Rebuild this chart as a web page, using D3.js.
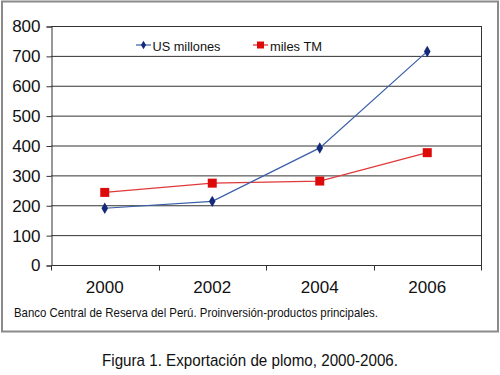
<!DOCTYPE html>
<html>
<head>
<meta charset="utf-8">
<script src="https://cdn.jsdelivr.net/npm/d3@7"></script>
<style>
  body { margin: 0; background: #fff; }
  svg text { font-family: "Liberation Sans", Arial, sans-serif; fill: #111; }
</style>
</head>
<body>
<div id="chart"></div>
<script>
// data
let years = ['2000', '2002', '2004', '2006'];
let usMillones = [190, 213, 392, 715];
let milesTM = [243, 274, 281, 376];
let yTicks = [0, 100, 200, 300, 400, 500, 600, 700, 800];

let width = 500, height = 375;
let plot = {left: 51, right: 481, top: 26, bottom: 265};

let svg = d3.select('#chart').append('svg')
    .attr('width', width)
    .attr('height', height);

// outer frame
svg.append('rect')
    .attr('x', 2).attr('y', 1.5)
    .attr('width', 496).attr('height', 330)
    .attr('fill', '#fff')
    .attr('stroke', '#8a8a8a')
    .attr('stroke-width', 2);

let xScale = d3.scaleBand()
    .domain(years)
    .range([plot.left, plot.right]);

let yScale = d3.scaleLinear()
    .domain([0, 800])
    .range([plot.bottom, plot.top]);

// gridlines
svg.append('g').selectAll('line')
    .data(yTicks.filter(d => d > 0))
    .enter().append('line')
    .attr('x1', plot.left).attr('x2', plot.right)
    .attr('y1', d => yScale(d) + 0.5).attr('y2', d => yScale(d) + 0.5)
    .attr('stroke', '#333').attr('stroke-width', 1);

// right border of plot area
svg.append('line')
    .attr('x1', plot.right + 0.5).attr('x2', plot.right + 0.5)
    .attr('y1', plot.top).attr('y2', plot.bottom)
    .attr('stroke', '#333');

// y axis
let yAxis = svg.append('g')
    .attr('transform', 'translate(' + (plot.left + 0.5) + ',0.5)')
    .call(d3.axisLeft(yScale).tickValues(yTicks).tickSize(5).tickPadding(6));
yAxis.selectAll('path, line').attr('stroke', '#333');
yAxis.selectAll('text')
    .style('font-size', '17px')
    .attr('fill', '#111');

// x axis with ticks between categories
let xAxisG = svg.append('g')
    .attr('transform', 'translate(0,' + (plot.bottom + 0.5) + ')');
xAxisG.append('line')
    .attr('x1', plot.left).attr('x2', plot.right + 1)
    .attr('stroke', '#333');
let bounds = years.map(d => xScale(d)).concat([plot.right]);
xAxisG.selectAll('.tick')
    .data(bounds)
    .enter().append('line')
    .attr('x1', d => Math.round(d) + 0.5).attr('x2', d => Math.round(d) + 0.5)
    .attr('y1', 0).attr('y2', 5)
    .attr('stroke', '#333');
xAxisG.selectAll('text')
    .data(years)
    .enter().append('text')
    .attr('x', d => xScale(d) + xScale.bandwidth() / 2)
    .attr('y', 27)
    .attr('text-anchor', 'middle')
    .style('font-size', '17px')
    .text(d => d);

let cx = d => xScale(d) + xScale.bandwidth() / 2;

let line = d3.line()
    .x((d, i) => cx(years[i]))
    .y(d => yScale(d));

// red series
svg.append('path')
    .datum(milesTM)
    .attr('d', line)
    .attr('fill', 'none')
    .attr('stroke', '#e0393b')
    .attr('stroke-width', 1.3);

// blue series
svg.append('path')
    .datum(usMillones)
    .attr('d', line)
    .attr('fill', 'none')
    .attr('stroke', '#3a5fa8')
    .attr('stroke-width', 1.2);

svg.append('g').selectAll('rect')
    .data(milesTM)
    .enter().append('rect')
    .attr('x', (d, i) => cx(years[i]) - 4.5)
    .attr('y', d => yScale(d) - 4.5)
    .attr('width', 9).attr('height', 9)
    .attr('fill', '#dd0a0a');

let diamond = d3.symbol().type(d3.symbolDiamond).size(38);
svg.append('g').selectAll('path')
    .data(usMillones)
    .enter().append('path')
    .attr('d', diamond)
    .attr('transform', (d, i) => 'translate(' + cx(years[i]) + ',' + yScale(d) + ')')
    .attr('fill', '#142a78');

// legend
let legend = svg.append('g');
legend.append('line')
    .attr('x1', 136).attr('x2', 151).attr('y1', 45).attr('y2', 45)
    .attr('stroke', '#3a5fa8').attr('stroke-width', 1.2);
legend.append('path')
    .attr('d', d3.symbol().type(d3.symbolDiamond).size(22))
    .attr('transform', 'translate(143.5,45)')
    .attr('fill', '#142a78');
legend.append('text')
    .attr('x', 152.5).attr('y', 50.5)
    .style('font-size', '13px')
    .attr('textLength', 68).attr('lengthAdjust', 'spacingAndGlyphs')
    .text('US millones');

legend.append('line')
    .attr('x1', 253).attr('x2', 268).attr('y1', 45).attr('y2', 45)
    .attr('stroke', '#e0393b').attr('stroke-width', 1.3);
legend.append('rect')
    .attr('x', 257).attr('y', 41.5).attr('width', 7).attr('height', 7)
    .attr('fill', '#dd0a0a');
legend.append('text')
    .attr('x', 270).attr('y', 50.5)
    .style('font-size', '13px')
    .attr('textLength', 52).attr('lengthAdjust', 'spacingAndGlyphs')
    .text('miles TM');

// source note (condensed face in the original)
svg.append('text')
    .attr('x', 14).attr('y', 317)
    .style('font-size', '13px')
    .attr('textLength', 364).attr('lengthAdjust', 'spacingAndGlyphs')
    .text('Banco Central de Reserva del Perú. Proinversión-productos principales.');

// figure caption
svg.append('text')
    .attr('x', 102).attr('y', 366)
    .style('font-size', '17px')
    .attr('textLength', 296).attr('lengthAdjust', 'spacingAndGlyphs')
    .text('Figura 1. Exportación de plomo, 2000-2006.');
</script>
</body>
</html>
